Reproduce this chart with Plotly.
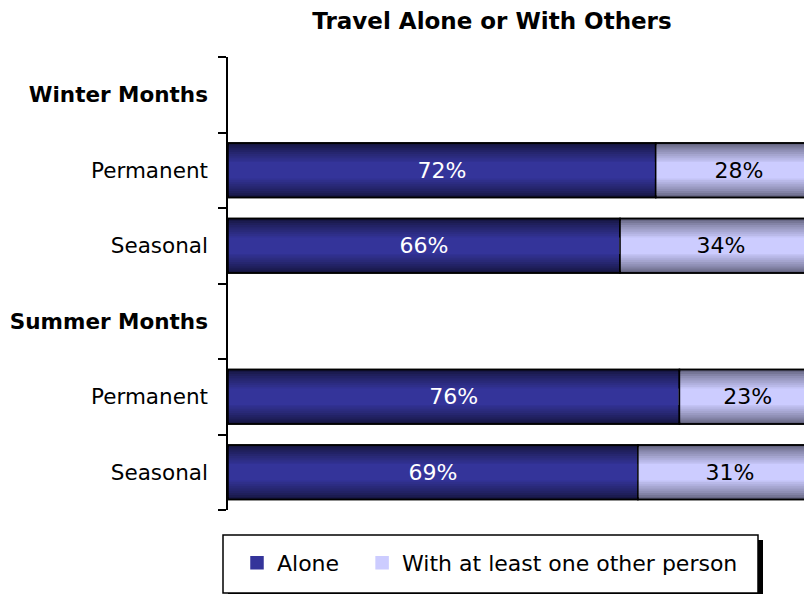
import plotly.graph_objects as go

# ---- data ----
categories = ["winter_hdr", "winter_perm", "winter_seas", "summer_hdr", "summer_perm", "summer_seas"]
tick_labels = ["<b>Winter Months</b>", "Permanent", "Seasonal", "<b>Summer Months</b>", "Permanent", "Seasonal"]
alone = [None, 72, 66, None, 76, 69]
with_others = [None, 28, 34, None, 23, 31]
series_names = ["Alone", "With at least one other person"]

FONT = "DejaVu Sans"

def lerp(c1, c2, t):
    return "rgb(%d,%d,%d)" % tuple(round(a + (b - a) * t) for a, b in zip(c1, c2))

fig = go.Figure()

full_w = 0.72
N_LAYERS = 10
layers = [(full_w - (full_w - 0.2) * i / (N_LAYERS - 1), (i / (N_LAYERS - 1)) ** 0.8)
          for i in range(N_LAYERS)]

def add_series(values, base, edge, center, name, legend_label, textcolor):
    for i, (w, t) in enumerate(layers):
        col = lerp(edge, center, t)
        last = i == N_LAYERS - 1
        fig.add_trace(go.Bar(
            x=values, y=categories, base=base, orientation="h", width=w,
            marker=dict(color=col,
                        line=dict(color="black" if i == 0 else col,
                                  width=1.5 if (i == 0 or last) else 0)),
            name=legend_label, showlegend=last, hoverinfo="skip",
        ))
    fig.add_trace(go.Bar(
        x=values, y=categories, base=base, orientation="h", width=full_w,
        marker=dict(color="rgba(0,0,0,0)", line=dict(color="black", width=1.5)),
        text=[("%d%%" % v) if v is not None else "" for v in values],
        textposition="inside", insidetextanchor="middle", constraintext="none",
        textangle=0,
        insidetextfont=dict(family=FONT, size=22, color=textcolor),
        showlegend=False, name=name, hoverinfo="skip",
    ))

# trailing non-breaking spaces only widen the gap between the two legend entries
add_series(alone, [0] * len(alone), (22, 22, 64), (52, 52, 154),
           series_names[0], series_names[0] + "\u2002\u00a0", "white")
add_series(with_others, [a if a is not None else 0 for a in alone],
           (100, 100, 128), (204, 204, 255), series_names[1], series_names[1], "black")

# figure coordinates (page is offset by the 8px body margin)
W, H = 812, 594
L, R, T, B = 220, 0, 49, 92
pw, ph = W - L - R, H - T - B

def px_x(x):
    return (x - L) / pw

def px_y(y):
    return (H - B - y) / ph

fig.update_layout(
    width=W, height=H,
    margin=dict(l=L, r=R, t=T, b=B, autoexpand=False),
    paper_bgcolor="white", plot_bgcolor="white",
    barmode="overlay",
    font=dict(family=FONT, size=21, color="black"),
    title=dict(text="<b>Travel Alone or With Others</b>", x=484 / W, xanchor="center",
               y=1 - 13 / H, yanchor="middle", font=dict(family=FONT, size=23, color="black")),
    xaxis=dict(range=[0, 99.66], visible=False, fixedrange=True),
    yaxis=dict(type="category", categoryorder="array", categoryarray=categories,
               tickmode="array", tickvals=categories, ticktext=tick_labels,
               autorange="reversed", showline=True, linecolor="black", linewidth=1.5,
               ticks="outside", ticklen=8, tickcolor="black", tickwidth=1.5,
               tickson="boundaries", showgrid=False, zeroline=False, automargin=False,
               ticklabelstandoff=14, fixedrange=True,
               tickfont=dict(family=FONT, size=21.5, color="black")),
    legend=dict(orientation="h", x=px_x(229), xanchor="left", y=px_y(555), yanchor="middle",
                font=dict(family=FONT, size=22, color="black"), bgcolor="rgba(0,0,0,0)",
                itemwidth=30, traceorder="normal"),
    shapes=[
        dict(type="rect", xref="paper", yref="paper",
             x0=px_x(220), x1=px_x(755), y0=px_y(532), y1=px_y(600),
             fillcolor="black", line=dict(width=0), layer="above"),
        dict(type="rect", xref="paper", yref="paper",
             x0=px_x(215), x1=px_x(750), y0=px_y(527), y1=px_y(585),
             fillcolor="white", line=dict(color="black", width=1.5), layer="above"),
    ],
)

fig.write_html("out.html")
